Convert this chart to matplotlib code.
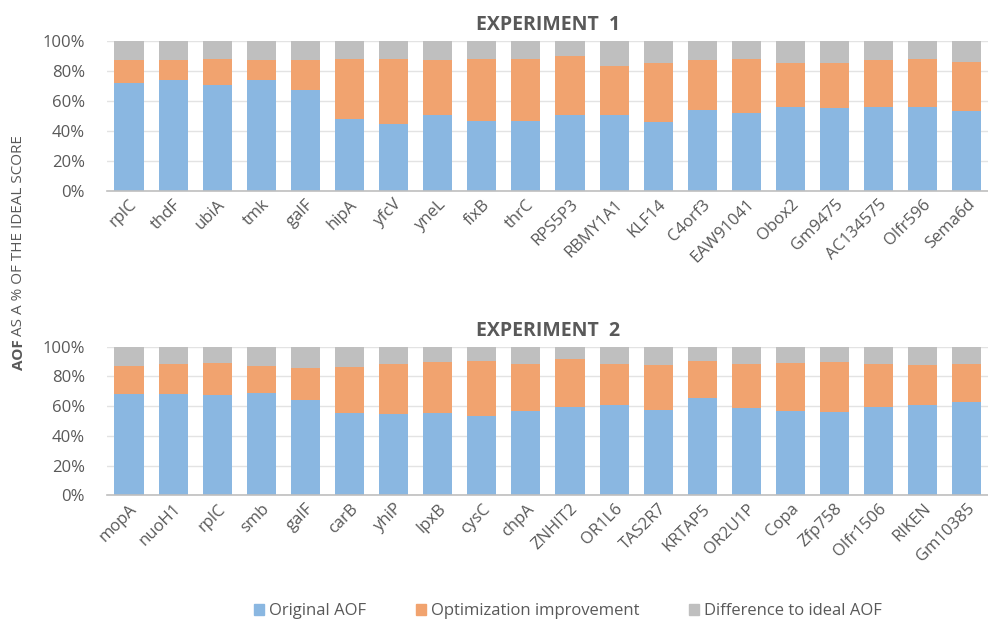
import numpy as np
import matplotlib
matplotlib.use('Agg')
import matplotlib.pyplot as plt
from matplotlib.patches import Patch

plt.rcParams['font.family'] = ['Open Sans', 'DejaVu Sans']

# genes and AOF shares (percent of the ideal score)
genes1 = ['rplC', 'thdF', 'ubiA', 'tmk', 'galF', 'hipA', 'yfcV', 'yneL', 'fixB', 'thrC',
          'RPS5P3', 'RBMY1A1', 'KLF14', 'C4orf3', 'EAW91041', 'Obox2', 'Gm9475',
          'AC134575', 'Olfr596', 'Sema6d']
original1 = [72.2, 74.0, 70.7, 74.0, 67.5, 47.8, 44.7, 50.4, 46.7, 46.7,
             50.4, 50.4, 46.2, 54.2, 52.0, 55.8, 55.3, 55.8, 55.8, 53.1]
optimized1 = [87.1, 87.1, 87.8, 87.1, 87.1, 87.8, 88.2, 87.1, 87.8, 88.2,
              90.0, 83.5, 85.1, 87.1, 87.8, 85.6, 85.6, 87.1, 87.8, 86.2]

genes2 = ['mopA', 'nuoH1', 'rplC', 'smb', 'galF', 'carB', 'yhiP', 'lpxB', 'cysC', 'chpA',
          'ZNHIT2', 'OR1L6', 'TAS2R7', 'KRTAP5', 'OR2U1P', 'Copa', 'Zfp758',
          'Olfr1506', 'RIKEN', 'Gm10385']
original2 = [68.2, 68.2, 67.7, 69.1, 64.1, 55.6, 54.5, 55.6, 53.4, 56.7,
             59.2, 61.0, 57.4, 65.7, 58.7, 57.0, 56.1, 59.4, 61.0, 63.0]
optimized2 = [87.0, 88.3, 88.8, 87.0, 85.4, 86.5, 88.6, 89.9, 90.6, 88.1,
              91.5, 88.1, 87.7, 90.6, 88.1, 88.8, 89.5, 88.1, 87.7, 88.6]

blue = '#8AB7E1'
orange = '#F1A36F'
grey = '#BFBFBF'
textColor = '#595959'


def draw_panel(ax, genes, original, optimized, title):
    x = np.arange(len(genes))
    orig = np.array(original)
    opt = np.array(optimized)
    ax.bar(x, orig, width=0.66, color=blue, zorder=2)
    ax.bar(x, opt - orig, bottom=orig, width=0.66, color=orange, zorder=2)
    ax.bar(x, 100 - opt, bottom=opt, width=0.66, color=grey, zorder=2)
    ax.set_xlim(-0.5, len(genes) - 0.5)
    ax.set_ylim(0, 100)
    ax.set_yticks(np.arange(0, 101, 20))
    ax.set_yticklabels(['%d%%' % v for v in range(0, 101, 20)])
    ax.set_xticks(x)
    ax.set_xticklabels(genes, rotation=45, ha='right', rotation_mode='anchor')
    ax.tick_params(axis='both', length=0, labelsize=12, colors=textColor)
    ax.tick_params(axis='y', pad=16)
    ax.tick_params(axis='x', pad=4)
    ax.grid(axis='y', color='#E3E3E3', linewidth=1, zorder=0)
    for side in ['top', 'right', 'left']:
        ax.spines[side].set_visible(False)
    ax.spines['bottom'].set_color('#BFBFBF')
    ax.spines['bottom'].set_linewidth(1.2)
    ax.set_title(title, fontsize=14, fontweight='bold', color=textColor, pad=8)


fig = plt.figure(figsize=(9.88, 6.25), dpi=100)
ax1 = fig.add_axes([0.1083, 0.6944, 0.8927, 0.24])
ax2 = fig.add_axes([0.1083, 0.2075, 0.8927, 0.2378])

draw_panel(ax1, genes1, original1, optimized1, 'EXPERIMENT  1')
draw_panel(ax2, genes2, original2, optimized2, 'EXPERIMENT  2')

# y label: bold "AOF" followed by the rest in regular weight
lab_x, lab_y = 0.019, 0.408
t1 = fig.text(lab_x, lab_y, 'AOF', rotation=90, fontsize=11, fontweight='bold',
              color=textColor, ha='center', va='bottom')
fig.canvas.draw()
bb = t1.get_window_extent().transformed(fig.transFigure.inverted())
fig.text(lab_x, bb.y1 + 0.006, 'AS A % OF THE IDEAL SCORE', rotation=90, fontsize=11,
         color=textColor, ha='center', va='bottom')

handles = [Patch(color=blue, label='Original AOF'),
           Patch(color=orange, label='Optimization improvement'),
           Patch(color=grey, label='Difference to ideal AOF')]
fig.legend(handles=handles, loc='center', bbox_to_anchor=(0.575, 0.022), ncol=3,
           frameon=False, fontsize=12, handlelength=0.6, handleheight=0.6,
           handletextpad=0.3, columnspacing=3.0, labelcolor=textColor)

fig.savefig('out.png', dpi=100)
